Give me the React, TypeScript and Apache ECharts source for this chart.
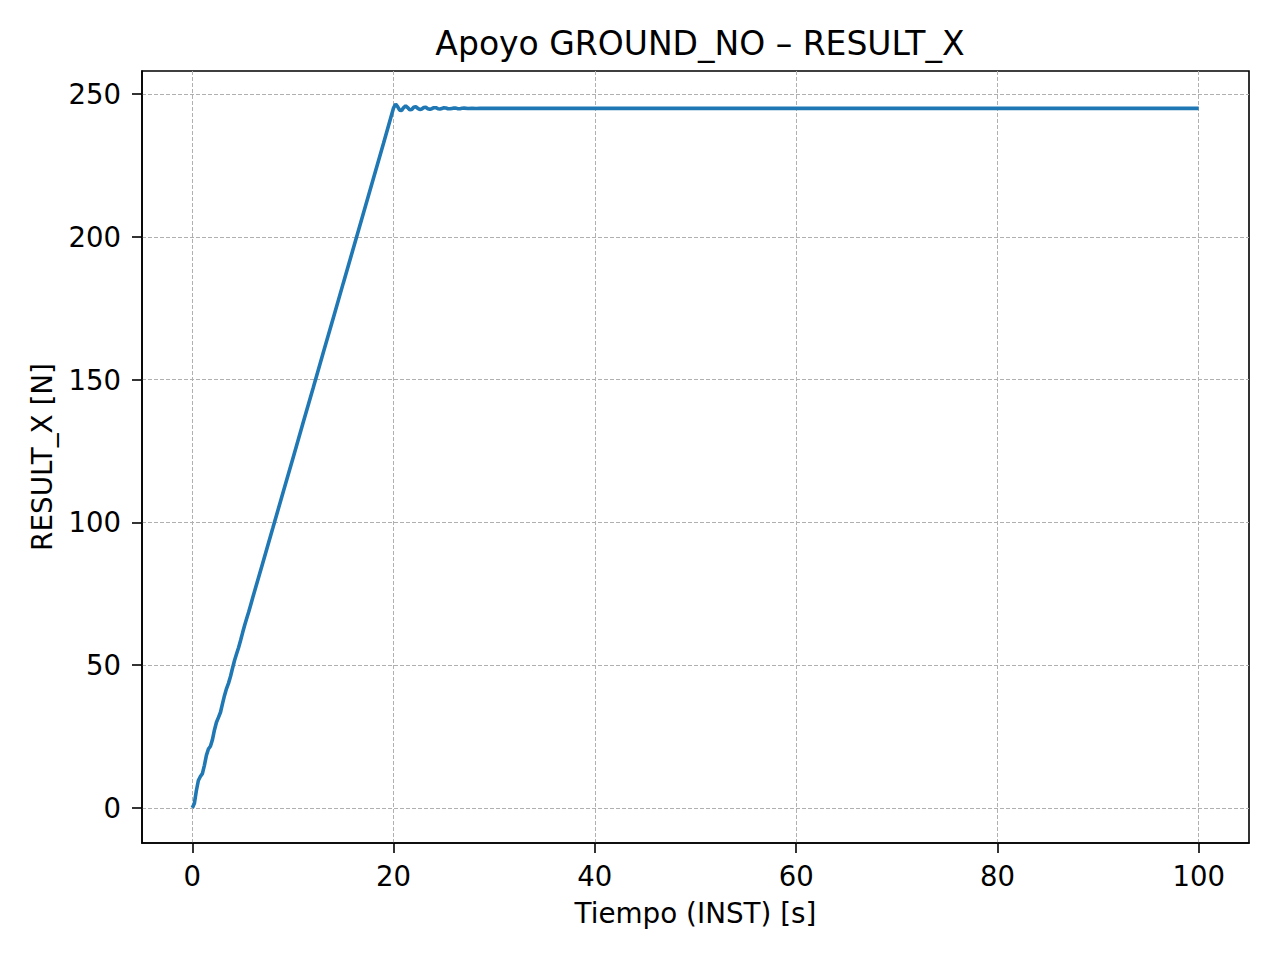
import React, { useEffect, useRef } from "react";
import * as echarts from "echarts";

const TITLE = "Apoyo GROUND_NO – RESULT_X";
const X_NAME = "Tiempo (INST) [s]";
const Y_NAME = "RESULT_X [N]";
const X_TICKS = [0, 20, 40, 60, 80, 100];
const Y_TICKS = [0, 50, 100, 150, 200, 250];

const times = [
  0, 0.2, 0.4, 0.6, 0.8, 1.0, 1.2, 1.4, 1.6, 1.8, 2.0, 2.2, 2.4, 2.6, 2.8, 3.0,
  3.2, 3.4, 3.6, 3.8, 4.0, 4.2, 4.4, 4.6, 4.8, 5.0, 5.2, 5.4, 5.6, 5.8, 6.0,
  7, 8, 9, 10, 11, 12, 13, 14, 15, 16, 17, 18, 19, 20.0,
  20.2, 20.4, 20.6, 20.8, 21.0, 21.2, 21.4, 21.6, 21.8, 22.0, 22.2, 22.4, 22.6,
  22.8, 23.0, 23.2, 23.4, 23.6, 23.8, 24.0, 24.2, 24.4, 24.6, 24.8, 25.0, 25.2,
  25.4, 25.6, 25.8, 26.0, 26.2, 26.4, 26.6, 26.8, 27.0, 27.4, 27.8, 28.2, 28.6,
  29, 30, 40, 50, 60, 70, 80, 90, 100,
];

const values = [
  0, 1.5, 6.0, 9.6, 11.0, 12.0, 14.9, 18.4, 20.6, 21.6, 23.9, 27.3, 30.0, 31.7,
  33.5, 36.5, 39.4, 41.8, 43.7, 46.1, 49.0, 51.7, 54.0, 56.2, 58.7, 61.4, 64.0,
  66.3, 68.6, 71.1, 73.6,
  85.8, 98.0, 110.3, 122.5, 134.8, 147.0, 159.3, 171.5, 183.8, 196.0, 208.3,
  220.5, 232.8, 245.2,
  246.5, 245.6, 244.4, 244.3, 245.3, 245.9, 245.3, 244.5, 244.6, 245.4, 245.6,
  245.0, 244.6, 244.8, 245.3, 245.4, 244.9, 244.7, 244.9, 245.25, 245.25, 244.9,
  244.8, 245.0, 245.2, 245.15, 244.9, 244.85, 245.0, 245.15, 245.1, 244.9, 244.9,
  245.05, 245.1, 244.95, 245.05, 244.97, 245.03,
  245.0, 245.0, 245.0, 245.0, 245.0, 245.0, 245.0, 245.0, 245.0,
];

const FONT = "DejaVu Sans";

export default function App() {
  const ref = useRef<HTMLDivElement>(null);
  useEffect(() => {
    if (!ref.current) return;
    const chart = echarts.init(ref.current, null, { renderer: "svg" });
    const data = times.map((t, i) => [t, values[i]]);
    const splitStyle = {
      show: true,
      lineStyle: { color: "#b0b0b0", width: 1, type: [4, 2] as any },
    };
    chart.setOption({
      animation: false,
      backgroundColor: "#ffffff",
      textStyle: { fontFamily: FONT },
      title: {
        text: TITLE,
        left: 695,
        top: 22,
        textAlign: "center",
        textStyle: {
          fontFamily: FONT,
          fontSize: 33,
          fontWeight: "normal",
          color: "#000",
        },
      },
      grid: {
        left: 142,
        top: 71,
        right: 31,
        bottom: 117,
        show: true,
        borderColor: "#000",
        borderWidth: 1.6,
        containLabel: false,
      },
      xAxis: {
        type: "value",
        min: -5,
        max: 105,
        name: X_NAME,
        nameLocation: "middle",
        nameGap: 56,
        nameTextStyle: { fontFamily: FONT, fontSize: 27.8, color: "#000" },
        axisLine: { show: true, onZero: false, lineStyle: { color: "#000", width: 1.6 } },
        axisTick: {
          show: true,
          inside: false,
          length: 10,
          lineStyle: { color: "#000", width: 1.6 },
          customValues: X_TICKS,
        },
        axisLabel: {
          fontFamily: FONT,
          fontSize: 27.5,
          color: "#000",
          margin: 19,
          customValues: X_TICKS,
        },
        splitLine: splitStyle,
      },
      yAxis: {
        type: "value",
        min: -12.3,
        max: 258.1,
        name: Y_NAME,
        nameLocation: "middle",
        nameGap: 86,
        nameRotate: 90,
        nameTextStyle: { fontFamily: FONT, fontSize: 27.8, color: "#000" },
        axisLine: { show: true, onZero: false, lineStyle: { color: "#000", width: 1.6 } },
        axisTick: {
          show: true,
          inside: false,
          length: 10,
          lineStyle: { color: "#000", width: 1.6 },
          customValues: Y_TICKS,
        },
        axisLabel: {
          fontFamily: FONT,
          fontSize: 27.5,
          color: "#000",
          margin: 21,
          customValues: Y_TICKS,
        },
        splitLine: splitStyle,
      },
      series: [
        {
          type: "line",
          data,
          showSymbol: false,
          symbol: "none",
          smooth: false,
          lineStyle: { color: "#1f77b4", width: 3.6 },
          z: 5,
        },
      ],
    });
    return () => chart.dispose();
  }, []);
  return (
    <div
      ref={ref}
      style={{ position: "fixed", left: 0, top: 0, width: 1280, height: 960, background: "#fff" }}
    />
  );
}
